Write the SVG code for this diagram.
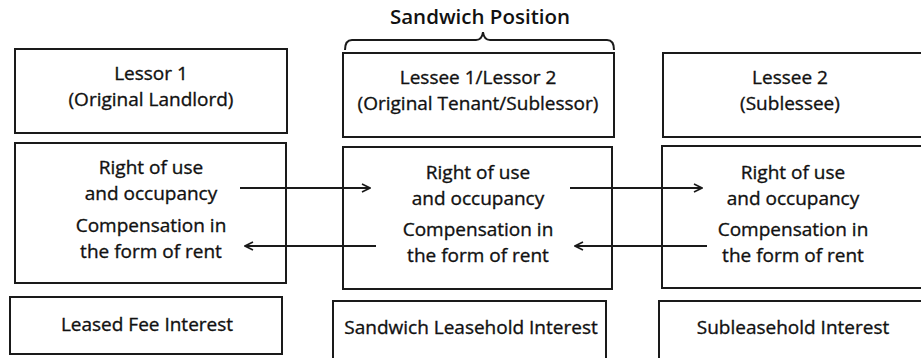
<svg xmlns="http://www.w3.org/2000/svg" width="921" height="358" viewBox="0 0 921 358">
<defs>
<style>
.box{fill:#fff;stroke:#1a1a1a;stroke-width:2}
.t{font-family:"Open Sans","Liberation Sans",sans-serif;font-size:19px;fill:#111;stroke:#111;stroke-width:0.35;text-anchor:middle}
.h{font-family:"Open Sans","Liberation Sans",sans-serif;font-size:20.5px;font-weight:600;fill:#111;text-anchor:middle}
.ln{stroke:#1a1a1a;stroke-width:2;fill:none}
</style>
<marker id="ah" viewBox="0 0 10 10" refX="9" refY="5" markerWidth="10" markerHeight="10" markerUnits="userSpaceOnUse" orient="auto">
<path d="M1,1 L9,5 L1,9" fill="none" stroke="#1a1a1a" stroke-width="1.6"/>
</marker>
</defs>
<rect width="921" height="358" fill="#fff"/>
<g id="sandwich-position">
<text class="h" x="480" y="24">Sandwich Position</text>
<path class="ln" d="M345,50 Q345,40 352,40 L476,40 Q482,40 483,32 Q484,40 490,40 L607,40 Q614,40 614,50"/>
</g>
<g id="lessor1">
<rect class="box" x="15" y="49" width="272" height="84"/>
<text class="t" x="151" y="80">Lessor 1</text>
<text class="t" x="151" y="106">(Original Landlord)</text>
</g>
<g id="lessee1">
<rect class="box" x="343" y="53" width="271" height="84"/>
<text class="t" x="478" y="84">Lessee 1/Lessor 2</text>
<text class="t" x="478" y="110">(Original Tenant/Sublessor)</text>
</g>
<g id="lessee2">
<rect class="box" x="663" y="53" width="262" height="84"/>
<text class="t" x="790" y="84">Lessee 2</text>
<text class="t" x="790" y="110">(Sublessee)</text>
</g>
<g id="rights-left">
<rect class="box" x="15" y="143" width="271" height="140"/>
<text class="t" x="151" y="174">Right of use</text>
<text class="t" x="151" y="200">and occupancy</text>
<text class="t" x="151" y="232">Compensation in</text>
<text class="t" x="151" y="258">the form of rent</text>
</g>
<g id="rights-mid">
<rect class="box" x="343" y="147" width="269" height="142"/>
<text class="t" x="478" y="179">Right of use</text>
<text class="t" x="478" y="205">and occupancy</text>
<text class="t" x="478" y="236">Compensation in</text>
<text class="t" x="478" y="262">the form of rent</text>
</g>
<g id="rights-right">
<rect class="box" x="662" y="146" width="263" height="142"/>
<text class="t" x="793" y="179">Right of use</text>
<text class="t" x="793" y="205">and occupancy</text>
<text class="t" x="793" y="236">Compensation in</text>
<text class="t" x="793" y="262">the form of rent</text>
</g>
<g id="interest-left">
<rect class="box" x="10" y="297" width="272" height="57"/>
<text class="t" x="147" y="331">Leased Fee Interest</text>
</g>
<g id="interest-mid">
<rect class="box" x="333" y="301" width="273" height="60"/>
<text class="t" x="471" y="334">Sandwich Leasehold Interest</text>
</g>
<g id="interest-right">
<rect class="box" x="659" y="301" width="266" height="60"/>
<text class="t" x="793" y="334">Subleasehold Interest</text>
</g>
<g id="connectors">
<line class="ln" x1="240" y1="188" x2="370" y2="188" marker-end="url(#ah)"/>
<line class="ln" x1="376" y1="246" x2="245" y2="246" marker-end="url(#ah)"/>
<line class="ln" x1="570" y1="188" x2="702" y2="188" marker-end="url(#ah)"/>
<line class="ln" x1="707" y1="246" x2="575" y2="246" marker-end="url(#ah)"/>
</g>
</svg>
